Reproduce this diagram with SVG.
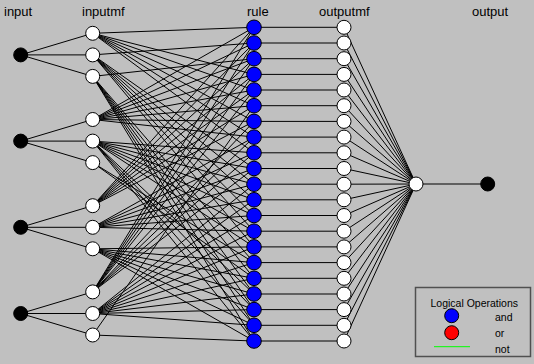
<svg xmlns="http://www.w3.org/2000/svg" width="534" height="364" viewBox="0 0 534 364">
<style>
.lbl{font-family:"Liberation Sans",Arial,sans-serif;font-size:13px;fill:#000}
.leg{font-family:"Liberation Sans",Arial,sans-serif;font-size:10.5px;fill:#000}
.ln{stroke:#000;stroke-width:1;fill:none}
.in{fill:#000;stroke:#000;stroke-width:1}
.mf{fill:#fff;stroke:#000;stroke-width:1}
.rl{fill:#0000ff;stroke:#000;stroke-width:1}
</style>
<rect x="0" y="0" width="534" height="364" fill="#c0c0c0"/>
<g id="labels">
<text class="lbl" x="4" y="16">input</text>
<text class="lbl" x="82" y="16">inputmf</text>
<text class="lbl" x="247" y="16">rule</text>
<text class="lbl" x="319" y="16">outputmf</text>
<text class="lbl" x="472" y="16">output</text>
</g>
<g id="connectors" class="ln">
<path d="M20.7 54.9L92.7 33.3M20.7 54.9L92.7 54.9M20.7 54.9L92.7 76.4M20.7 141.1L92.7 119.5M20.7 141.1L92.7 141.1M20.7 141.1L92.7 162.6M20.7 227.3L92.7 205.7M20.7 227.3L92.7 227.3M20.7 227.3L92.7 248.8M20.7 313.5L92.7 291.9M20.7 313.5L92.7 313.5M20.7 313.5L92.7 335"/>
<path d="M92.7 33.3L254 27.3M92.7 33.3L254 74.4M92.7 33.3L254 90M92.7 33.3L254 105.7M92.7 33.3L254 121.4M92.7 33.3L254 137.1M92.7 33.3L254 152.8M92.7 54.9L254 43M92.7 54.9L254 168.5M92.7 54.9L254 184.2M92.7 54.9L254 199.8M92.7 54.9L254 215.5M92.7 54.9L254 231.2M92.7 54.9L254 246.9M92.7 76.4L254 58.7M92.7 76.4L254 262.6M92.7 76.4L254 278.3M92.7 76.4L254 294M92.7 76.4L254 309.6M92.7 76.4L254 325.3M92.7 76.4L254 341"/>
<path d="M92.7 119.5L254 27.3M92.7 119.5L254 43M92.7 119.5L254 58.7M92.7 119.5L254 74.4M92.7 119.5L254 90M92.7 119.5L254 105.7M92.7 119.5L254 121.4M92.7 119.5L254 137.1M92.7 141.1L254 152.8M92.7 141.1L254 168.5M92.7 141.1L254 184.2M92.7 141.1L254 199.8M92.7 141.1L254 215.5M92.7 141.1L254 231.2M92.7 141.1L254 246.9M92.7 162.6L254 262.6M92.7 162.6L254 278.3M92.7 141.1L254 294M92.7 141.1L254 309.6M92.7 141.1L254 325.3M92.7 141.1L254 341"/>
<path d="M92.7 205.7L254 27.3M92.7 205.7L254 43M92.7 205.7L254 58.7M92.7 205.7L254 74.4M92.7 205.7L254 90M92.7 205.7L254 105.7M92.7 205.7L254 121.4M92.7 227.3L254 137.1M92.7 227.3L254 152.8M92.7 227.3L254 168.5M92.7 227.3L254 184.2M92.7 227.3L254 199.8M92.7 227.3L254 215.5M92.7 227.3L254 231.2M92.7 248.8L254 246.9M92.7 248.8L254 262.6M92.7 248.8L254 278.3M92.7 248.8L254 294M92.7 248.8L254 309.6M92.7 248.8L254 325.3M92.7 248.8L254 341"/>
<path d="M92.7 291.9L254 27.3M92.7 291.9L254 43M92.7 291.9L254 58.7M92.7 291.9L254 74.4M92.7 291.9L254 90M92.7 335L254 105.7M92.7 291.9L254 121.4M92.7 291.9L254 137.1M92.7 291.9L254 152.8M92.7 291.9L254 168.5M92.7 313.5L254 184.2M92.7 313.5L254 199.8M92.7 313.5L254 215.5M92.7 313.5L254 231.2M92.7 313.5L254 246.9M92.7 313.5L254 262.6M92.7 313.5L254 278.3M92.7 313.5L254 294M92.7 313.5L254 309.6M92.7 313.5L254 325.3M92.7 335L254 341"/>
<path d="M254 27.3H344M254 43H344M254 58.7H344M254 74.4H344M254 90H344M254 105.7H344M254 121.4H344M254 137.1H344M254 152.8H344M254 168.5H344M254 184.2H344M254 199.8H344M254 215.5H344M254 231.2H344M254 246.9H344M254 262.6H344M254 278.3H344M254 294H344M254 309.6H344M254 325.3H344M254 341H344"/>
<path d="M344 27.3L416 184M344 43L416 184M344 58.7L416 184M344 74.4L416 184M344 90L416 184M344 105.7L416 184M344 121.4L416 184M344 137.1L416 184M344 152.8L416 184M344 168.5L416 184M344 184.2L416 184M344 199.8L416 184M344 215.5L416 184M344 231.2L416 184M344 246.9L416 184M344 262.6L416 184M344 278.3L416 184M344 294L416 184M344 309.6L416 184M344 325.3L416 184M344 341L416 184M416 184H487.7"/>
</g>
<g id="inputs">
<circle id="input1" class="in" cx="20.7" cy="54.9" r="7"/>
<circle id="input2" class="in" cx="20.7" cy="141.1" r="7"/>
<circle id="input3" class="in" cx="20.7" cy="227.3" r="7"/>
<circle id="input4" class="in" cx="20.7" cy="313.5" r="7"/>
</g>
<g id="inputmfs">
<circle id="inmf1" class="mf" cx="92.7" cy="33.3" r="7"/>
<circle id="inmf2" class="mf" cx="92.7" cy="54.9" r="7"/>
<circle id="inmf3" class="mf" cx="92.7" cy="76.4" r="7"/>
<circle id="inmf4" class="mf" cx="92.7" cy="119.5" r="7"/>
<circle id="inmf5" class="mf" cx="92.7" cy="141.1" r="7"/>
<circle id="inmf6" class="mf" cx="92.7" cy="162.6" r="7"/>
<circle id="inmf7" class="mf" cx="92.7" cy="205.7" r="7"/>
<circle id="inmf8" class="mf" cx="92.7" cy="227.3" r="7"/>
<circle id="inmf9" class="mf" cx="92.7" cy="248.8" r="7"/>
<circle id="inmf10" class="mf" cx="92.7" cy="291.9" r="7"/>
<circle id="inmf11" class="mf" cx="92.7" cy="313.5" r="7"/>
<circle id="inmf12" class="mf" cx="92.7" cy="335" r="7"/>
</g>
<g id="rules">
<circle id="rule1" class="rl" cx="254" cy="27.3" r="7.3"/>
<circle id="rule2" class="rl" cx="254" cy="43" r="7.3"/>
<circle id="rule3" class="rl" cx="254" cy="58.7" r="7.3"/>
<circle id="rule4" class="rl" cx="254" cy="74.4" r="7.3"/>
<circle id="rule5" class="rl" cx="254" cy="90" r="7.3"/>
<circle id="rule6" class="rl" cx="254" cy="105.7" r="7.3"/>
<circle id="rule7" class="rl" cx="254" cy="121.4" r="7.3"/>
<circle id="rule8" class="rl" cx="254" cy="137.1" r="7.3"/>
<circle id="rule9" class="rl" cx="254" cy="152.8" r="7.3"/>
<circle id="rule10" class="rl" cx="254" cy="168.5" r="7.3"/>
<circle id="rule11" class="rl" cx="254" cy="184.2" r="7.3"/>
<circle id="rule12" class="rl" cx="254" cy="199.8" r="7.3"/>
<circle id="rule13" class="rl" cx="254" cy="215.5" r="7.3"/>
<circle id="rule14" class="rl" cx="254" cy="231.2" r="7.3"/>
<circle id="rule15" class="rl" cx="254" cy="246.9" r="7.3"/>
<circle id="rule16" class="rl" cx="254" cy="262.6" r="7.3"/>
<circle id="rule17" class="rl" cx="254" cy="278.3" r="7.3"/>
<circle id="rule18" class="rl" cx="254" cy="294" r="7.3"/>
<circle id="rule19" class="rl" cx="254" cy="309.6" r="7.3"/>
<circle id="rule20" class="rl" cx="254" cy="325.3" r="7.3"/>
<circle id="rule21" class="rl" cx="254" cy="341" r="7.3"/>
</g>
<g id="outputmfs">
<circle id="outmf1" class="mf" cx="344" cy="27.3" r="7"/>
<circle id="outmf2" class="mf" cx="344" cy="43" r="7"/>
<circle id="outmf3" class="mf" cx="344" cy="58.7" r="7"/>
<circle id="outmf4" class="mf" cx="344" cy="74.4" r="7"/>
<circle id="outmf5" class="mf" cx="344" cy="90" r="7"/>
<circle id="outmf6" class="mf" cx="344" cy="105.7" r="7"/>
<circle id="outmf7" class="mf" cx="344" cy="121.4" r="7"/>
<circle id="outmf8" class="mf" cx="344" cy="137.1" r="7"/>
<circle id="outmf9" class="mf" cx="344" cy="152.8" r="7"/>
<circle id="outmf10" class="mf" cx="344" cy="168.5" r="7"/>
<circle id="outmf11" class="mf" cx="344" cy="184.2" r="7"/>
<circle id="outmf12" class="mf" cx="344" cy="199.8" r="7"/>
<circle id="outmf13" class="mf" cx="344" cy="215.5" r="7"/>
<circle id="outmf14" class="mf" cx="344" cy="231.2" r="7"/>
<circle id="outmf15" class="mf" cx="344" cy="246.9" r="7"/>
<circle id="outmf16" class="mf" cx="344" cy="262.6" r="7"/>
<circle id="outmf17" class="mf" cx="344" cy="278.3" r="7"/>
<circle id="outmf18" class="mf" cx="344" cy="294" r="7"/>
<circle id="outmf19" class="mf" cx="344" cy="309.6" r="7"/>
<circle id="outmf20" class="mf" cx="344" cy="325.3" r="7"/>
<circle id="outmf21" class="mf" cx="344" cy="341" r="7"/>
</g>
<g id="outputnode"><circle class="mf" cx="416" cy="184" r="7"/></g>
<g id="output"><circle class="in" cx="487.7" cy="184" r="7"/></g>
<g id="legend">
<rect x="415.5" y="287.5" width="115" height="69" fill="#c0c0c0" stroke="#505050" stroke-width="1.5"/>
<text class="leg" x="430.5" y="306.5">Logical Operations</text>
<circle cx="451.7" cy="315.7" r="7" fill="#0000ff" stroke="#000" stroke-width="1"/>
<text class="leg" x="495" y="320.5">and</text>
<circle cx="451.7" cy="332.7" r="7" fill="#ff0000" stroke="#000" stroke-width="1"/>
<text class="leg" x="495" y="336.5">or</text>
<line x1="434" y1="346.7" x2="470" y2="346.7" stroke="#00ff00" stroke-width="1"/>
<text class="leg" x="495" y="352.5">not</text>
</g>
</svg>
